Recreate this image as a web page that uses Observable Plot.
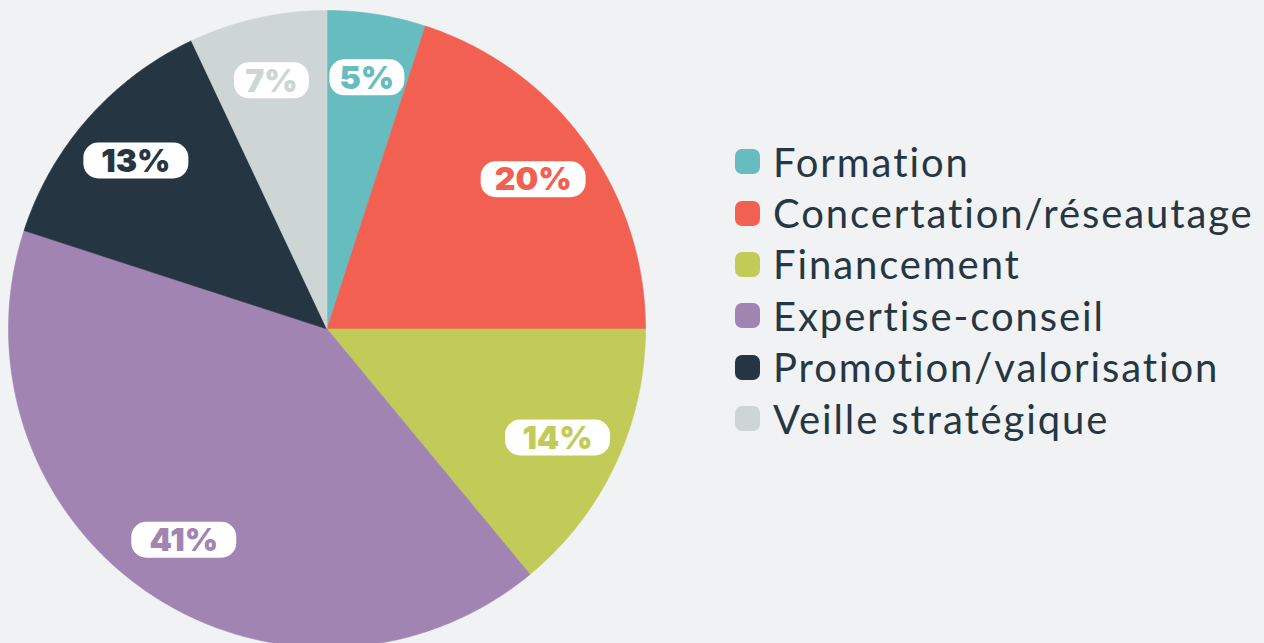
<!DOCTYPE html>
<html><head><meta charset="utf-8">
<script src="https://cdn.jsdelivr.net/npm/d3@7"></script>
<script src="https://cdn.jsdelivr.net/npm/@observablehq/plot@0.6"></script>
<style>
html,body{margin:0;padding:0;background:#f0f2f4;}
#wrap{position:relative;width:1264px;height:643px;overflow:hidden;background:#f0f2f4;}
#chart{position:absolute;left:0;top:0;}
#legend{position:absolute;left:735px;top:136px;width:529px;}
#legend .lg-swatches{font-family:Lato, sans-serif !important;font-size:40px !important;color:#263642 !important;margin:0 !important;letter-spacing:1.9px;font-variant-ligatures:none;font-feature-settings:"liga" 0;}
#legend .lg-swatch{height:51.4px;padding:0 !important;margin:0 !important;display:flex;align-items:center;}
#legend .lg-swatch svg{margin-right:13px !important;}
#legend .lg-swatch svg rect{rx:7px;ry:7px;}
#legend .lg-swatch-label{overflow:visible !important;}
</style></head><body>
<div id="wrap"><div id="chart"></div><div id="legend"></div></div>
<script>
const categories = ["Formation", "Concertation/réseautage", "Financement", "Expertise-conseil", "Promotion/valorisation", "Veille stratégique"];
const values = [5, 20, 14, 41, 13, 7];
const colors = ["#67bcc0", "#f26052", "#c2ca58", "#a284b3", "#253642", "#cdd5d5"];

const data = categories.map((c, i) => ({cat: c, value: values[i]}));
const arcs = d3.pie().sort(null).value(d => d.value)(data);

// slice polygons derived from pie angles (unit circle)
const pts = [];
for (const a of arcs) {
  pts.push({cat: a.data.cat, x: 0, y: 0});
  const n = Math.max(2, Math.ceil((a.endAngle - a.startAngle) / 0.01));
  for (let k = 0; k <= n; k++) {
    const t = a.startAngle + (a.endAngle - a.startAngle) * k / n;
    pts.push({cat: a.data.cat, x: Math.sin(t), y: Math.cos(t)});
  }
  pts.push({cat: a.data.cat, x: 0, y: 0});
}

const labelR = 0.8;
const labels = arcs.map(a => {
  const m = (a.startAngle + a.endAngle) / 2;
  return {cat: a.data.cat, value: a.data.value, text: a.data.value + "%", x: labelR * Math.sin(m), y: labelR * Math.cos(m)};
});

function pill(w, h, r) {
  return {draw(ctx) {
    const x0 = -w / 2, x1 = w / 2, y0 = -h / 2, y1 = h / 2;
    ctx.moveTo(x0 + r, y0);
    ctx.lineTo(x1 - r, y0);
    ctx.arc(x1 - r, y0 + r, r, -Math.PI / 2, 0);
    ctx.lineTo(x1, y1 - r);
    ctx.arc(x1 - r, y1 - r, r, 0, Math.PI / 2);
    ctx.lineTo(x0 + r, y1);
    ctx.arc(x0 + r, y1 - r, r, Math.PI / 2, Math.PI);
    ctx.lineTo(x0, y0 + r);
    ctx.arc(x0 + r, y0 + r, r, Math.PI, 1.5 * Math.PI);
    ctx.closePath();
  }};
}

const cx = 326.5, cy = 328.5, R = 318.5;
const chart = Plot.plot({
  width: 1264,
  height: 643,
  margin: 0,
  style: {background: "transparent", overflow: "visible"},
  x: {domain: [-1, 1], range: [cx - R, cx + R], axis: null},
  y: {domain: [-1, 1], range: [cy + R, cy - R], axis: null},
  color: {domain: categories, range: colors},
  marks: [
    Plot.line(pts, {x: "x", y: "y", z: "cat", fill: "cat", stroke: "cat", strokeWidth: 0.6, curve: "linear"}),
    Plot.dot(labels.filter(d => d.text.length <= 2), {x: "x", y: "y", symbol: pill(75, 36, 15), r: 10, fill: "white", stroke: "none"}),
    Plot.dot(labels.filter(d => d.text.length > 2), {x: "x", y: "y", symbol: pill(105, 36, 15), r: 10, fill: "white", stroke: "none"}),
    Plot.text(labels, {x: "x", y: "y", text: "text", fill: "cat", fontSize: 32, fontWeight: 900, fontFamily: "Inter, sans-serif", dy: 1, style: {letterSpacing: "-0.5px"}})
  ]
});
document.getElementById("chart").appendChild(chart);

const legend = Plot.legend({
  color: {domain: categories, range: colors},
  legend: "swatches",
  columns: 1,
  swatchSize: 25,
  className: "lg"
});
document.getElementById("legend").appendChild(legend);
</script>
</body></html>
